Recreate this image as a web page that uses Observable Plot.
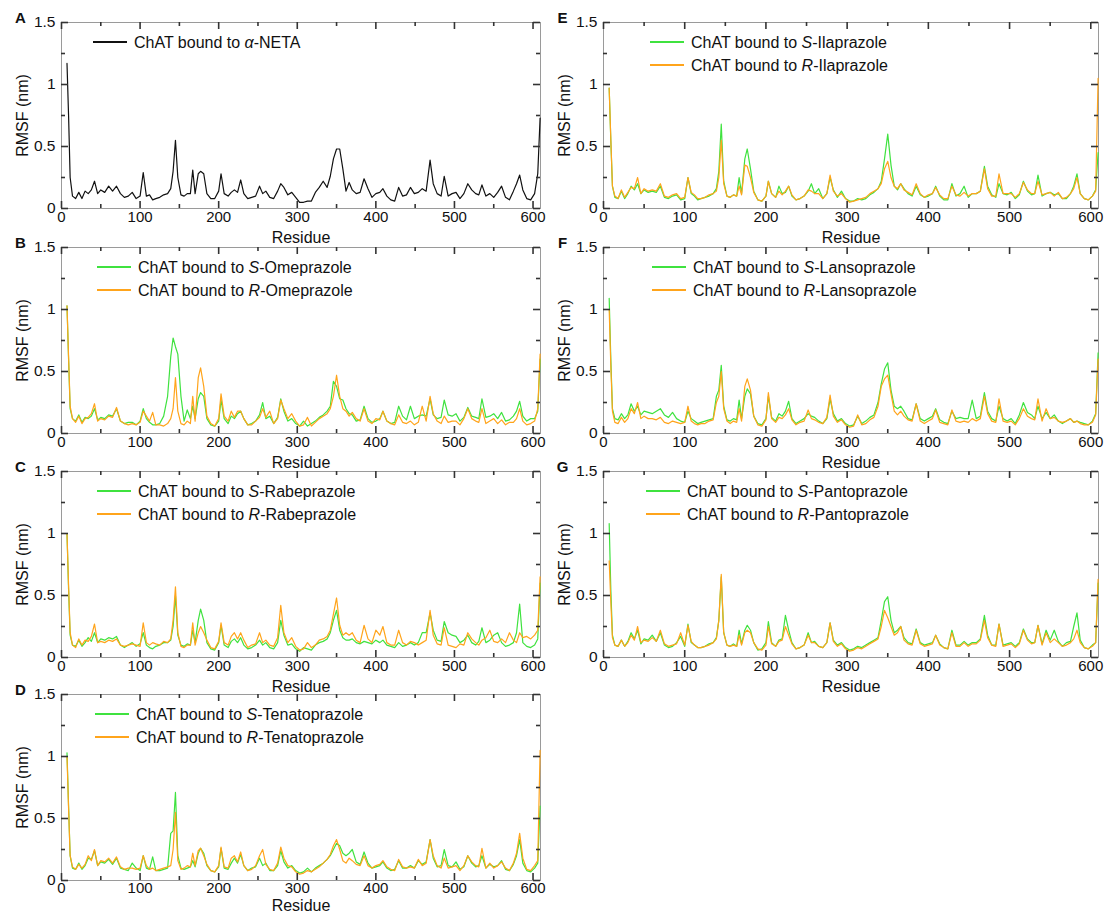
<!DOCTYPE html>
<html><head><meta charset="utf-8">
<script src="https://cdn.jsdelivr.net/npm/d3@7"></script>
<script src="https://cdn.jsdelivr.net/npm/@observablehq/plot@0.6"></script>
<style>
body{margin:0;background:#fff;font-family:"Liberation Sans",Arial,sans-serif;}
#page{position:relative;width:1105px;height:914px;overflow:hidden;background:#fff;}
.panel{position:absolute;}
.legend{position:absolute;font-size:16px;color:#111;line-height:23px;}
.legend .row{display:flex;align-items:center;white-space:nowrap;height:23px;}
.legend svg{margin-right:7px;display:block;}
</style></head><body><div id="page"></div>
<script>
// ---------- data ----------
const residue = [
  7,9,11,14,18,22,26,30,34,38,
  42,46,50,55,60,65,70,75,80,85,
  90,95,100,104,108,112,116,120,125,130,
  135,139,142,145,148,152,156,160,164,167,
  170,174,177,181,185,190,195,200,203,207,
  212,216,220,224,228,232,237,242,247,252,
  256,260,265,270,275,279,283,288,293,298,
  303,308,313,318,323,328,333,338,342,346,
  350,354,358,362,366,370,375,380,385,390,
  395,400,405,409,414,419,424,429,434,439,
  444,449,454,459,464,469,473,478,483,487,
  492,497,502,507,512,517,522,527,531,535,
  540,545,550,555,560,565,570,575,579,583,
  587,592,597,602,606,609];

const rmsfNETA = [
  1.17,0.75,0.25,0.10,0.08,0.13,0.08,0.14,0.12,0.15,
  0.22,0.12,0.15,0.13,0.18,0.14,0.18,0.12,0.09,0.10,
  0.13,0.08,0.10,0.29,0.10,0.11,0.07,0.08,0.09,0.11,
  0.12,0.16,0.30,0.55,0.25,0.11,0.10,0.12,0.12,0.31,
  0.12,0.28,0.30,0.28,0.12,0.08,0.08,0.14,0.28,0.12,
  0.10,0.13,0.15,0.13,0.23,0.12,0.08,0.09,0.10,0.18,
  0.12,0.14,0.09,0.08,0.14,0.20,0.17,0.11,0.13,0.09,
  0.05,0.05,0.06,0.06,0.13,0.17,0.22,0.17,0.26,0.40,
  0.48,0.48,0.32,0.14,0.21,0.15,0.12,0.13,0.24,0.16,
  0.09,0.12,0.13,0.16,0.10,0.07,0.06,0.17,0.10,0.11,
  0.17,0.12,0.13,0.16,0.14,0.39,0.20,0.12,0.10,0.26,
  0.10,0.12,0.13,0.08,0.12,0.20,0.15,0.12,0.11,0.19,
  0.10,0.12,0.09,0.13,0.18,0.09,0.07,0.14,0.20,0.27,
  0.15,0.08,0.07,0.12,0.28,0.73];

const rmsfSOmeprazole = [
  1.03,0.60,0.20,0.12,0.10,0.15,0.09,0.13,0.12,0.14,
  0.20,0.11,0.13,0.12,0.15,0.14,0.20,0.10,0.08,0.09,
  0.09,0.07,0.10,0.20,0.12,0.09,0.07,0.07,0.08,0.14,
  0.30,0.62,0.77,0.70,0.64,0.30,0.10,0.19,0.12,0.22,
  0.12,0.28,0.33,0.30,0.12,0.07,0.06,0.10,0.27,0.12,
  0.08,0.14,0.12,0.16,0.18,0.12,0.07,0.08,0.10,0.15,
  0.25,0.12,0.14,0.08,0.13,0.28,0.18,0.10,0.12,0.08,
  0.06,0.10,0.06,0.08,0.10,0.13,0.15,0.18,0.22,0.42,
  0.38,0.28,0.27,0.20,0.16,0.15,0.10,0.11,0.22,0.12,
  0.09,0.10,0.12,0.18,0.10,0.08,0.09,0.22,0.14,0.11,
  0.22,0.12,0.14,0.15,0.14,0.28,0.15,0.12,0.13,0.27,
  0.15,0.14,0.16,0.10,0.13,0.21,0.14,0.13,0.12,0.28,
  0.13,0.14,0.16,0.12,0.17,0.10,0.11,0.14,0.18,0.26,
  0.14,0.10,0.12,0.12,0.18,0.60];
const rmsfROmeprazole = [
  1.03,0.62,0.22,0.12,0.09,0.14,0.08,0.12,0.13,0.16,
  0.24,0.10,0.12,0.11,0.14,0.13,0.21,0.10,0.08,0.07,
  0.08,0.07,0.09,0.18,0.14,0.10,0.17,0.07,0.07,0.06,
  0.08,0.12,0.20,0.45,0.18,0.08,0.07,0.10,0.08,0.30,
  0.10,0.45,0.53,0.38,0.14,0.08,0.06,0.12,0.32,0.14,
  0.10,0.18,0.13,0.18,0.18,0.12,0.07,0.07,0.10,0.13,
  0.20,0.13,0.18,0.08,0.12,0.27,0.20,0.12,0.16,0.10,
  0.06,0.07,0.13,0.06,0.09,0.12,0.14,0.16,0.20,0.30,
  0.47,0.30,0.20,0.18,0.14,0.17,0.12,0.10,0.20,0.10,
  0.08,0.12,0.11,0.18,0.10,0.08,0.07,0.15,0.09,0.08,
  0.10,0.07,0.09,0.22,0.10,0.30,0.16,0.10,0.08,0.14,
  0.09,0.10,0.10,0.07,0.12,0.20,0.12,0.10,0.09,0.20,
  0.08,0.10,0.12,0.08,0.11,0.07,0.09,0.09,0.12,0.20,
  0.10,0.07,0.08,0.10,0.20,0.64];

const rmsfSRabeprazole = [
  1.00,0.55,0.18,0.10,0.09,0.14,0.09,0.12,0.16,0.13,
  0.20,0.12,0.15,0.14,0.16,0.15,0.17,0.10,0.08,0.10,
  0.12,0.09,0.11,0.20,0.10,0.08,0.07,0.09,0.10,0.12,
  0.12,0.14,0.25,0.50,0.18,0.10,0.09,0.11,0.10,0.22,
  0.12,0.30,0.39,0.30,0.12,0.07,0.06,0.12,0.26,0.10,
  0.08,0.13,0.15,0.12,0.16,0.10,0.07,0.08,0.10,0.14,
  0.10,0.12,0.08,0.07,0.12,0.30,0.18,0.10,0.11,0.07,
  0.05,0.08,0.07,0.06,0.10,0.12,0.13,0.15,0.20,0.30,
  0.38,0.22,0.16,0.14,0.14,0.15,0.12,0.11,0.13,0.12,
  0.11,0.14,0.12,0.14,0.10,0.09,0.08,0.12,0.09,0.10,
  0.12,0.10,0.12,0.20,0.20,0.36,0.22,0.14,0.13,0.29,
  0.20,0.18,0.17,0.12,0.14,0.18,0.12,0.10,0.13,0.24,
  0.12,0.14,0.18,0.20,0.12,0.09,0.10,0.12,0.20,0.43,
  0.12,0.09,0.08,0.10,0.15,0.60];
const rmsfRRabeprazole = [
  1.00,0.58,0.20,0.10,0.08,0.15,0.10,0.14,0.13,0.17,
  0.27,0.12,0.13,0.12,0.14,0.13,0.15,0.10,0.09,0.10,
  0.11,0.10,0.09,0.28,0.12,0.10,0.12,0.11,0.10,0.13,
  0.12,0.15,0.30,0.57,0.20,0.09,0.08,0.10,0.10,0.28,
  0.10,0.20,0.25,0.20,0.14,0.08,0.07,0.13,0.28,0.12,
  0.10,0.17,0.20,0.15,0.20,0.14,0.08,0.10,0.11,0.20,
  0.12,0.14,0.10,0.09,0.16,0.42,0.20,0.12,0.16,0.09,
  0.06,0.07,0.12,0.08,0.10,0.14,0.15,0.17,0.22,0.35,
  0.48,0.26,0.18,0.20,0.18,0.20,0.14,0.12,0.26,0.15,
  0.12,0.22,0.18,0.25,0.12,0.10,0.10,0.22,0.12,0.10,
  0.13,0.12,0.10,0.12,0.14,0.38,0.18,0.11,0.10,0.24,
  0.10,0.09,0.08,0.11,0.10,0.20,0.15,0.12,0.10,0.14,
  0.16,0.22,0.13,0.12,0.15,0.12,0.20,0.14,0.12,0.20,
  0.16,0.17,0.15,0.18,0.22,0.65];

const rmsfSTenatoprazole = [
  1.03,0.60,0.20,0.10,0.09,0.14,0.09,0.12,0.18,0.17,
  0.24,0.12,0.15,0.14,0.17,0.13,0.18,0.10,0.09,0.08,
  0.14,0.10,0.08,0.20,0.10,0.09,0.19,0.08,0.08,0.09,
  0.10,0.38,0.40,0.71,0.20,0.10,0.09,0.10,0.11,0.16,
  0.11,0.22,0.26,0.22,0.12,0.08,0.07,0.11,0.26,0.10,
  0.09,0.14,0.18,0.14,0.21,0.12,0.08,0.10,0.11,0.18,
  0.12,0.14,0.08,0.08,0.12,0.24,0.15,0.10,0.12,0.08,
  0.06,0.07,0.10,0.07,0.10,0.12,0.14,0.17,0.20,0.25,
  0.30,0.28,0.22,0.20,0.22,0.25,0.15,0.13,0.23,0.14,
  0.10,0.11,0.12,0.15,0.10,0.08,0.09,0.16,0.10,0.10,
  0.12,0.10,0.16,0.13,0.15,0.33,0.18,0.11,0.12,0.25,
  0.12,0.11,0.15,0.09,0.11,0.20,0.14,0.11,0.12,0.20,
  0.10,0.13,0.11,0.12,0.16,0.09,0.08,0.13,0.20,0.33,
  0.14,0.08,0.07,0.10,0.14,0.60];
const rmsfRTenatoprazole = [
  1.00,0.58,0.20,0.11,0.09,0.13,0.10,0.13,0.20,0.16,
  0.25,0.12,0.16,0.15,0.18,0.14,0.19,0.11,0.09,0.10,
  0.10,0.09,0.10,0.20,0.12,0.09,0.10,0.08,0.09,0.10,
  0.11,0.12,0.25,0.55,0.16,0.09,0.10,0.12,0.11,0.22,
  0.12,0.24,0.26,0.20,0.13,0.08,0.07,0.12,0.27,0.11,
  0.10,0.18,0.20,0.15,0.23,0.12,0.08,0.09,0.12,0.20,
  0.25,0.13,0.09,0.08,0.14,0.27,0.18,0.12,0.11,0.07,
  0.05,0.06,0.08,0.07,0.09,0.11,0.14,0.17,0.21,0.28,
  0.33,0.25,0.16,0.14,0.18,0.16,0.13,0.12,0.20,0.12,
  0.10,0.12,0.13,0.16,0.11,0.09,0.08,0.17,0.11,0.10,
  0.11,0.10,0.17,0.12,0.14,0.33,0.20,0.12,0.10,0.18,
  0.10,0.11,0.12,0.08,0.12,0.20,0.15,0.12,0.11,0.26,
  0.10,0.14,0.10,0.12,0.15,0.10,0.08,0.14,0.22,0.38,
  0.18,0.09,0.08,0.12,0.16,1.05];

const rmsfSIlaprazole = [
  0.97,0.55,0.18,0.09,0.08,0.14,0.08,0.12,0.18,0.15,
  0.20,0.12,0.15,0.13,0.14,0.13,0.18,0.09,0.08,0.10,
  0.11,0.07,0.08,0.25,0.12,0.10,0.07,0.08,0.09,0.10,
  0.12,0.16,0.30,0.68,0.22,0.10,0.09,0.11,0.10,0.25,
  0.12,0.40,0.48,0.32,0.14,0.07,0.06,0.10,0.22,0.12,
  0.09,0.18,0.12,0.13,0.18,0.10,0.07,0.08,0.10,0.14,
  0.20,0.12,0.16,0.08,0.12,0.25,0.15,0.09,0.14,0.08,
  0.06,0.06,0.08,0.07,0.08,0.11,0.13,0.16,0.22,0.40,
  0.60,0.35,0.18,0.15,0.20,0.16,0.12,0.10,0.18,0.11,
  0.09,0.10,0.12,0.18,0.10,0.07,0.07,0.20,0.10,0.12,
  0.18,0.09,0.12,0.12,0.14,0.34,0.18,0.11,0.09,0.20,
  0.12,0.11,0.13,0.08,0.11,0.22,0.14,0.11,0.12,0.27,
  0.10,0.12,0.13,0.11,0.12,0.08,0.08,0.12,0.18,0.28,
  0.12,0.08,0.07,0.10,0.15,0.45];
const rmsfRIlaprazole = [
  0.97,0.56,0.18,0.10,0.08,0.15,0.09,0.13,0.17,0.16,
  0.25,0.12,0.16,0.14,0.15,0.14,0.20,0.10,0.09,0.11,
  0.12,0.08,0.09,0.25,0.13,0.11,0.08,0.08,0.09,0.11,
  0.12,0.14,0.25,0.55,0.20,0.10,0.09,0.11,0.10,0.18,
  0.11,0.35,0.34,0.25,0.13,0.07,0.06,0.10,0.22,0.12,
  0.09,0.14,0.11,0.14,0.18,0.11,0.07,0.08,0.10,0.15,
  0.14,0.12,0.12,0.08,0.12,0.27,0.14,0.10,0.12,0.08,
  0.05,0.06,0.07,0.08,0.09,0.12,0.14,0.16,0.20,0.32,
  0.38,0.25,0.18,0.16,0.20,0.15,0.13,0.11,0.20,0.12,
  0.09,0.11,0.12,0.17,0.11,0.08,0.08,0.18,0.11,0.10,
  0.13,0.10,0.12,0.12,0.14,0.32,0.16,0.10,0.10,0.28,
  0.12,0.12,0.12,0.09,0.12,0.21,0.15,0.12,0.12,0.22,
  0.11,0.12,0.13,0.10,0.13,0.08,0.09,0.12,0.16,0.25,
  0.12,0.08,0.07,0.10,0.14,1.05];

const rmsfSLansoprazole = [
  1.09,0.60,0.20,0.12,0.11,0.16,0.12,0.15,0.24,0.18,
  0.22,0.15,0.18,0.17,0.16,0.18,0.20,0.15,0.13,0.17,
  0.12,0.10,0.09,0.18,0.12,0.10,0.08,0.09,0.10,0.11,
  0.12,0.30,0.35,0.55,0.22,0.11,0.10,0.12,0.11,0.27,
  0.12,0.30,0.36,0.32,0.14,0.08,0.07,0.12,0.30,0.13,
  0.10,0.16,0.14,0.18,0.26,0.12,0.08,0.10,0.12,0.16,
  0.14,0.13,0.10,0.08,0.12,0.28,0.16,0.10,0.12,0.08,
  0.06,0.07,0.14,0.08,0.10,0.13,0.15,0.25,0.40,0.52,
  0.57,0.35,0.22,0.20,0.22,0.18,0.12,0.11,0.24,0.12,
  0.10,0.12,0.14,0.20,0.11,0.09,0.08,0.18,0.12,0.13,
  0.12,0.12,0.27,0.12,0.14,0.33,0.18,0.12,0.10,0.22,
  0.12,0.10,0.12,0.08,0.15,0.25,0.17,0.15,0.12,0.22,
  0.12,0.17,0.12,0.15,0.10,0.08,0.10,0.12,0.09,0.10,
  0.09,0.08,0.07,0.10,0.16,0.65];
const rmsfRLansoprazole = [
  1.00,0.55,0.18,0.09,0.08,0.13,0.09,0.12,0.20,0.16,
  0.25,0.12,0.14,0.12,0.12,0.11,0.13,0.09,0.08,0.10,
  0.09,0.08,0.09,0.22,0.10,0.08,0.07,0.08,0.08,0.10,
  0.11,0.25,0.30,0.50,0.20,0.10,0.08,0.10,0.09,0.20,
  0.10,0.38,0.44,0.35,0.14,0.07,0.06,0.11,0.33,0.12,
  0.09,0.13,0.12,0.15,0.20,0.11,0.07,0.09,0.10,0.19,
  0.12,0.11,0.09,0.08,0.13,0.31,0.14,0.09,0.11,0.07,
  0.05,0.06,0.15,0.07,0.08,0.11,0.13,0.22,0.38,0.44,
  0.47,0.32,0.18,0.15,0.18,0.14,0.11,0.10,0.24,0.10,
  0.08,0.10,0.12,0.19,0.09,0.08,0.07,0.19,0.10,0.09,
  0.10,0.09,0.12,0.10,0.12,0.30,0.16,0.10,0.09,0.28,
  0.10,0.09,0.10,0.07,0.12,0.20,0.14,0.12,0.11,0.28,
  0.10,0.20,0.12,0.13,0.10,0.09,0.10,0.12,0.09,0.10,
  0.08,0.07,0.07,0.09,0.15,0.60];

const rmsfSPantoprazole = [
  1.08,0.55,0.18,0.10,0.09,0.14,0.09,0.13,0.20,0.15,
  0.22,0.11,0.15,0.14,0.18,0.13,0.20,0.10,0.08,0.09,
  0.12,0.17,0.09,0.27,0.12,0.10,0.08,0.08,0.09,0.11,
  0.12,0.16,0.30,0.65,0.20,0.10,0.09,0.11,0.09,0.22,
  0.11,0.22,0.26,0.22,0.12,0.06,0.07,0.12,0.29,0.12,
  0.09,0.14,0.15,0.34,0.22,0.12,0.07,0.08,0.10,0.20,
  0.12,0.13,0.09,0.08,0.12,0.28,0.14,0.10,0.12,0.08,
  0.06,0.07,0.09,0.08,0.10,0.12,0.14,0.16,0.30,0.45,
  0.49,0.30,0.20,0.22,0.25,0.16,0.12,0.11,0.23,0.12,
  0.10,0.11,0.12,0.18,0.11,0.08,0.07,0.22,0.10,0.10,
  0.13,0.10,0.12,0.12,0.15,0.34,0.18,0.10,0.10,0.27,
  0.10,0.11,0.12,0.09,0.12,0.23,0.15,0.12,0.12,0.26,
  0.11,0.22,0.14,0.22,0.13,0.09,0.12,0.13,0.25,0.36,
  0.14,0.08,0.07,0.10,0.12,0.60];
const rmsfRPantoprazole = [
  0.78,0.45,0.16,0.10,0.09,0.14,0.09,0.12,0.18,0.14,
  0.25,0.12,0.14,0.13,0.16,0.13,0.22,0.11,0.09,0.10,
  0.11,0.20,0.10,0.26,0.13,0.10,0.08,0.08,0.09,0.10,
  0.12,0.15,0.30,0.67,0.20,0.10,0.09,0.10,0.09,0.18,
  0.10,0.20,0.22,0.20,0.12,0.07,0.06,0.10,0.25,0.11,
  0.09,0.13,0.14,0.25,0.18,0.11,0.07,0.08,0.10,0.18,
  0.12,0.12,0.09,0.08,0.12,0.28,0.13,0.09,0.11,0.07,
  0.05,0.06,0.08,0.07,0.09,0.11,0.13,0.15,0.25,0.38,
  0.32,0.25,0.18,0.20,0.25,0.14,0.11,0.10,0.22,0.11,
  0.09,0.10,0.11,0.18,0.10,0.08,0.07,0.20,0.09,0.09,
  0.12,0.09,0.11,0.11,0.14,0.30,0.16,0.10,0.09,0.27,
  0.09,0.10,0.11,0.08,0.11,0.22,0.14,0.11,0.12,0.26,
  0.10,0.20,0.12,0.15,0.12,0.09,0.10,0.12,0.15,0.22,
  0.12,0.08,0.07,0.09,0.12,0.63];

const xMajorTicks = [0,100,200,300,400,500,600];
const xMinorTicks = [50,150,250,350,450,550];
const yMajorTicks = [0,0.5,1,1.5];
const yMinorTicks = [0.25,0.75,1.25];

// ---------- styling / layout ----------
const GREEN = "#3fe23f", ORANGE = "#ffa41b", BLACK = "#111111";
const FONT = "'Liberation Sans', Arial, Helvetica, sans-serif";
const TICK = "#333333";
const X_DOMAIN = [0, 609.5], Y_DOMAIN = [0, 1.5];

const panels = [
  {letter:"A", col:0, row:0, legendDx:32, series:[
    {values:rmsfNETA, color:BLACK, label:"ChAT bound to <i>α</i>-NETA"}]},
  {letter:"B", col:0, row:1, legendDx:36, series:[
    {values:rmsfSOmeprazole, color:GREEN, label:"ChAT bound to <i>S</i>-Omeprazole"},
    {values:rmsfROmeprazole, color:ORANGE, label:"ChAT bound to <i>R</i>-Omeprazole"}]},
  {letter:"C", col:0, row:2, legendDx:36, series:[
    {values:rmsfSRabeprazole, color:GREEN, label:"ChAT bound to <i>S</i>-Rabeprazole"},
    {values:rmsfRRabeprazole, color:ORANGE, label:"ChAT bound to <i>R</i>-Rabeprazole"}]},
  {letter:"D", col:0, row:3, legendDx:34, series:[
    {values:rmsfSTenatoprazole, color:GREEN, label:"ChAT bound to <i>S</i>-Tenatoprazole"},
    {values:rmsfRTenatoprazole, color:ORANGE, label:"ChAT bound to <i>R</i>-Tenatoprazole"}]},
  {letter:"E", col:1, row:0, legendDx:47, series:[
    {values:rmsfSIlaprazole, color:GREEN, label:"ChAT bound to <i>S</i>-Ilaprazole"},
    {values:rmsfRIlaprazole, color:ORANGE, label:"ChAT bound to <i>R</i>-Ilaprazole"}]},
  {letter:"F", col:1, row:1, legendDx:49, series:[
    {values:rmsfSLansoprazole, color:GREEN, label:"ChAT bound to <i>S</i>-Lansoprazole"},
    {values:rmsfRLansoprazole, color:ORANGE, label:"ChAT bound to <i>R</i>-Lansoprazole"}]},
  {letter:"G", col:1, row:2, legendDx:43, series:[
    {values:rmsfSPantoprazole, color:GREEN, label:"ChAT bound to <i>S</i>-Pantoprazole"},
    {values:rmsfRPantoprazole, color:ORANGE, label:"ChAT bound to <i>R</i>-Pantoprazole"}]}
];

const cols = [{left:61, width:479}, {left:603, width:495}];
const rows = [
  {top:22,  tickPad:3, residueDy:29},
  {top:247, tickPad:3, residueDy:29},
  {top:471, tickPad:3, residueDy:29},
  {top:694, tickPad:2, residueDy:25}
];
const frameH = 186;
const mL = 61, mR = 6, mT = 22, mB = 40;
const page = document.getElementById("page");

// inward ticks on all four sides; tick length given in px, converted to data units of each scale
function inwardTicks(xs, ys, lenPx, frameW) {
  const dy = lenPx * (Y_DOMAIN[1] - Y_DOMAIN[0]) / frameH;
  const dx = lenPx * (X_DOMAIN[1] - X_DOMAIN[0]) / frameW;
  const o = {stroke: TICK, strokeWidth: 1.6};
  return [
    Plot.ruleX(xs, {x: d => d, y1: Y_DOMAIN[0], y2: Y_DOMAIN[0] + dy, ...o}),
    Plot.ruleX(xs, {x: d => d, y1: Y_DOMAIN[1] - dy, y2: Y_DOMAIN[1], ...o}),
    Plot.ruleY(ys, {y: d => d, x1: X_DOMAIN[0], x2: X_DOMAIN[0] + dx, ...o}),
    Plot.ruleY(ys, {y: d => d, x1: X_DOMAIN[1] - dx, x2: X_DOMAIN[1], ...o})
  ];
}

for (const p of panels) {
  const c = cols[p.col], rw = rows[p.row], top = rw.top;
  const marks = [
    Plot.frame({stroke:"#9a9a9a"}),
    Plot.axisX(xMajorTicks, {anchor:"bottom", tickSize:0, tickPadding:rw.tickPad, tickFormat:d => String(d), label:null, fill:"#111", fontSize:15}),
    Plot.axisY(yMajorTicks, {anchor:"left", tickSize:0, tickPadding:6, tickFormat:d => String(d), label:null, fill:"#111", fontSize:15.5})
  ];
  for (const s of p.series) {
    const data = residue.map((r, i) => ({r, v: s.values[i]})).filter(d => d.v != null);
    marks.push(Plot.line(data, {x:"r", y:"v", stroke:s.color, strokeWidth:1.2, strokeLinejoin:"round"}));
  }
  // ticks drawn after the lines so nothing covers them
  marks.push(...inwardTicks(xMinorTicks, yMinorTicks, 4, c.width));
  marks.push(...inwardTicks(xMajorTicks, yMajorTicks, 7, c.width));
  marks.push(Plot.text(["Residue"], {frameAnchor:"bottom", dy:rw.residueDy, lineAnchor:"middle", textAnchor:"middle", fontSize:16, fill:"#111"}));
  marks.push(Plot.text(["RMSF (nm)"], {frameAnchor:"left", dx:-39, rotate:-90, lineAnchor:"middle", textAnchor:"middle", fontSize:16, fill:"#111"}));
  marks.push(Plot.text([p.letter], {frameAnchor:"top-left", dx:-41, dy:-4, lineAnchor:"middle", textAnchor:"middle", fontSize:15, fontWeight:"bold", fill:"#111"}));

  const svg = Plot.plot({
    width: mL + c.width + mR,
    height: mT + frameH + mB,
    marginLeft: mL, marginRight: mR, marginTop: mT, marginBottom: mB,
    x: {domain: X_DOMAIN},
    y: {domain: Y_DOMAIN},
    style: {fontFamily: FONT, fontSize: "16px", background: "transparent", overflow: "visible", color: "#111"},
    marks
  });
  const wrap = document.createElement("div");
  wrap.className = "panel";
  wrap.style.left = (c.left - mL) + "px";
  wrap.style.top = (top - mT) + "px";
  wrap.appendChild(svg);
  page.appendChild(wrap);

  // legend (HTML, inside the plot frame)
  const lg = document.createElement("div");
  lg.className = "legend";
  lg.style.left = (c.left + p.legendDx) + "px";
  lg.style.top = (top + 20 - 11.5) + "px";
  lg.style.fontFamily = FONT;
  for (const s of p.series) {
    const row = document.createElement("div");
    row.className = "row";
    row.innerHTML = `<svg width="34" height="6"><line x1="0" x2="34" y1="3" y2="3" stroke="${s.color}" stroke-width="2.2"/></svg><span>${s.label}</span>`;
    lg.appendChild(row);
  }
  page.appendChild(lg);
}
</script>
</body></html>
